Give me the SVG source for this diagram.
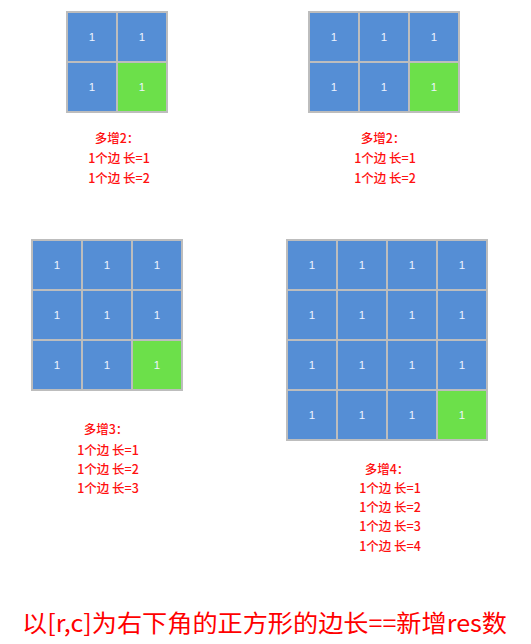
<svg xmlns="http://www.w3.org/2000/svg" width="531" height="644" viewBox="0 0 531 644">
<style>
.b{fill:#558ed5;stroke:#bdbdbd;stroke-width:2}
.g{fill:#6ce04a;stroke:#bdbdbd;stroke-width:2}
.n{font-family:"Liberation Sans","Noto Sans",sans-serif;font-size:11.5px;fill:#eef4ff;text-anchor:middle}
.r{font-family:"Noto Sans CJK SC","Microsoft YaHei",sans-serif;font-size:12.5px;font-weight:500;fill:#ff1010;text-anchor:middle}
.t{font-family:"Noto Sans CJK SC",sans-serif;font-size:24px;fill:#ff0000}
</style>
<defs>
<g id="bc"><rect class="b" x="0" y="0" width="50" height="50"/><text class="n" x="25" y="29">1</text></g>
<g id="gc"><rect class="g" x="0" y="0" width="50" height="50"/><text class="n" x="25" y="29">1</text></g>
</defs>
<g id="grid1">
<use href="#bc" x="67" y="12"/><use href="#bc" x="117" y="12"/>
<use href="#bc" x="67" y="62"/><use href="#gc" x="117" y="62"/>
</g>
<g id="label1">
<text class="r" x="117" y="143">多增2：</text>
<text class="r" x="119" y="163">1个边 长=1</text>
<text class="r" x="119" y="183">1个边 长=2</text>
</g>
<g id="grid2">
<use href="#bc" x="309" y="12"/><use href="#bc" x="359" y="12"/><use href="#bc" x="409" y="12"/>
<use href="#bc" x="309" y="62"/><use href="#bc" x="359" y="62"/><use href="#gc" x="409" y="62"/>
</g>
<g id="label2">
<text class="r" x="383" y="143">多增2：</text>
<text class="r" x="385" y="163">1个边 长=1</text>
<text class="r" x="385" y="183">1个边 长=2</text>
</g>
<g id="grid3">
<use href="#bc" x="32" y="240"/><use href="#bc" x="82" y="240"/><use href="#bc" x="132" y="240"/>
<use href="#bc" x="32" y="290"/><use href="#bc" x="82" y="290"/><use href="#bc" x="132" y="290"/>
<use href="#bc" x="32" y="340"/><use href="#bc" x="82" y="340"/><use href="#gc" x="132" y="340"/>
</g>
<g id="label3">
<text class="r" x="106" y="434">多增3：</text>
<text class="r" x="108" y="455">1个边 长=1</text>
<text class="r" x="108" y="474">1个边 长=2</text>
<text class="r" x="108" y="493">1个边 长=3</text>
</g>
<g id="grid4">
<use href="#bc" x="287" y="240"/><use href="#bc" x="337" y="240"/><use href="#bc" x="387" y="240"/><use href="#bc" x="437" y="240"/>
<use href="#bc" x="287" y="290"/><use href="#bc" x="337" y="290"/><use href="#bc" x="387" y="290"/><use href="#bc" x="437" y="290"/>
<use href="#bc" x="287" y="340"/><use href="#bc" x="337" y="340"/><use href="#bc" x="387" y="340"/><use href="#bc" x="437" y="340"/>
<use href="#bc" x="287" y="390"/><use href="#bc" x="337" y="390"/><use href="#bc" x="387" y="390"/><use href="#gc" x="437" y="390"/>
</g>
<g id="label4">
<text class="r" x="387" y="474">多增4：</text>
<text class="r" x="390" y="493">1个边 长=1</text>
<text class="r" x="390" y="512">1个边 长=2</text>
<text class="r" x="390" y="531">1个边 长=3</text>
<text class="r" x="390" y="551">1个边 长=4</text>
</g>
<g id="title">
<text class="t" x="22" y="632" textLength="485" lengthAdjust="spacingAndGlyphs">以[r,c]为右下角的正方形的边长==新增res数</text>
</g>
<g id="connectors"/>
</svg>
